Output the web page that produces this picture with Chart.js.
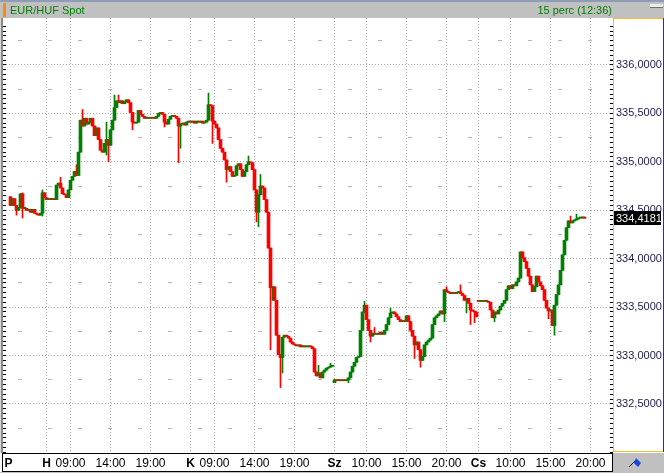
<!DOCTYPE html>
<html>
<head>
<meta charset="utf-8">
<script src="https://cdn.jsdelivr.net/npm/chart.js@4.4.1/dist/chart.umd.min.js"></script>
<style>
  html, body { margin: 0; padding: 0; background: #fff; }
</style>
</head>
<body>
<canvas id="chart" width="664" height="473"></canvas>
<script>
const title = "EUR/HUF Spot";
const period = "15 perc (12:36)";

// one candle per 15 min, index 1 = first bar on Friday evening
const firstIndex = 1;
const closes = [
  // P
  334.55, 334.62, 334.55, 334.50, 334.53, 334.67, 334.52, 334.52, 334.50, 334.51,
  334.48, 334.51, 334.47, 334.46, 334.45, 334.47, 334.68, 334.63,
  // H
  334.61, 334.62, 334.61, 334.62, 334.61, 334.76, 334.78, 334.73, 334.67, 334.66,
  334.63, 334.71, 334.81, 334.85, 334.90, 334.86, 335.10, 335.43, 335.37, 335.45,
  335.39, 335.41, 335.45, 335.37, 335.27, 335.35, 335.23, 335.12, 335.10, 335.19,
  335.23, 335.17, 335.33, 335.43, 335.56, 335.63, 335.61, 335.63, 335.60, 335.62,
  335.64, 335.61, 335.51, 335.41, 335.40, 335.41, 335.53, 335.49, 335.47, 335.45,
  335.45, 335.46, 335.45, 335.46, 335.45, 335.47, 335.50, 335.51, 335.49, 335.41,
  335.39, 335.44, 335.47, 335.48, 335.47, 335.45, 335.37, 335.39, 335.40, 335.38,
  335.41, 335.42,
  // K
  335.41, 335.42, 335.40, 335.42, 335.41, 335.42, 335.40, 335.41, 335.43, 335.59,
  335.58, 335.42, 335.39, 335.35, 335.23, 335.14, 335.10, 335.02, 334.92, 334.95,
  334.90, 334.85, 334.86, 334.96, 334.98, 334.92, 334.85, 334.90, 334.97, 335.00,
  334.99, 334.92, 334.71, 334.48, 334.66, 334.75, 334.73, 334.61, 334.48, 334.11,
  333.70, 333.71, 333.57, 333.21, 333.01, 332.98, 333.19, 333.21, 333.20, 333.18,
  333.14, 333.12, 333.11, 333.10, 333.11, 333.09, 333.10, 333.09, 333.09, 333.10,
  333.09, 333.07, 332.83, 332.79, 332.82, 332.77, 332.83, 332.85, 332.87, 332.88,
  332.89, 332.89,
  // Sz
  332.75, 332.74, 332.75, 332.74, 332.75, 332.74, 332.75, 332.77, 332.83, 332.89,
  332.93, 332.98, 332.99, 333.26, 333.45, 333.52, 333.37, 333.26, 333.20, 333.23,
  333.22, 333.23, 333.22, 333.24, 333.22, 333.26, 333.32, 333.39, 333.44, 333.45,
  333.43, 333.40, 333.37, 333.35, 333.36, 333.35, 333.41, 333.35, 333.26, 333.20,
  333.11, 333.14, 333.06, 332.95, 332.99, 333.11, 333.14, 333.16, 333.18, 333.32,
  333.39, 333.41, 333.43, 333.46, 333.43, 333.68, 333.66, 333.65, 333.64, 333.65,
  333.64, 333.65, 333.66, 333.64, 333.62, 333.57, 333.59, 333.54, 333.47, 333.46,
  333.45, 333.40,
  // Cs
  333.56, 333.56, 333.57, 333.56, 333.56, 333.55, 333.47, 333.39, 333.45, 333.43,
  333.47, 333.51, 333.54, 333.57, 333.68, 333.72, 333.69, 333.73, 333.72, 333.76,
  333.80, 334.07, 334.01, 333.97, 333.90, 333.82, 333.73, 333.66, 333.71, 333.82,
  333.76, 333.72, 333.68, 333.57, 333.49, 333.46, 333.47, 333.31, 333.52, 333.63,
  333.73, 333.88, 334.04, 334.19, 334.32, 334.39, 334.37, 334.39, 334.40, 334.41,
  334.42, 334.42, 334.43, 334.4181
];

// opens that do not follow the previous close (session starts)
const dayOpens = [[1, 334.64], [163, 332.72], [235, 333.57]];

// visible shadows: [index, high, low]
const wicks = [
  [4, null, 334.45], [7, 334.68, 334.42], [17, 334.71, 334.44], [26, 334.84, null],
  [34, 334.97, null], [37, 335.54, null], [49, 335.41, 335.07], [50, null, 335.00],
  [53, 335.69, null], [55, 335.69, null], [62, null, 335.33], [78, null, 335.36],
  [85, null, 334.99], [86, null, 335.14], [100, 335.71, null], [102, null, 335.19],
  [109, null, 334.79], [120, 335.06, null], [124, null, 334.38], [125, null, 334.33],
  [126, 334.87, null], [131, null, 333.06], [132, null, 333.57], [136, null, 332.67],
  [137, null, 332.82], [155, 332.90, null], [161, 332.92, null], [170, null, 332.72],
  [178, 333.56, null], [181, null, 333.14], [183, 333.29, null], [191, 333.49, null],
  [203, null, 332.97], [206, null, 332.88], [218, null, 333.35], [219, 333.71, null],
  [226, 333.73, null], [229, null, 333.44], [231, null, 333.32], [233, null, 333.34],
  [243, null, 333.35], [270, null, 333.38], [273, null, 333.21], [281, 334.44, null],
  [284, 334.46, null]
];

const tickIndex = [0, 19, 31, 51, 71, 91, 103, 123, 143, 163, 179, 199, 219, 235, 251, 271, 291];
const tickLabels = ["P", "H", "09:00", "14:00", "19:00", "K", "09:00", "14:00", "19:00",
  "Sz", "10:00", "15:00", "20:00", "Cs", "10:00", "15:00", "20:00"];
const dayLabels = ["P", "H", "K", "Sz", "Cs"];
const priceTicks = [332.5, 333, 333.5, 334, 334.5, 335, 335.5, 336];
const halfTicks = [332.25, 332.75, 333.25, 333.75, 334.25, 334.75, 335.25, 335.75, 336.25];

const yMin = 331.994;
const yMax = 336.485;
const UP = "#008000";
const DOWN = "#ff0000";
const FONT = '"Liberation Sans", Arial, sans-serif';

const candles = closes.map((c, k) => {
  const i = firstIndex + k;
  const gap = dayOpens.find(d => d[0] === i);
  const o = gap ? gap[1] : closes[k - 1];
  let hi = Math.max(o, c);
  let lo = Math.min(o, c);
  const w = wicks.find(d => d[0] === i);
  if (w) {
    if (w[1] !== null) hi = Math.max(hi, w[1]);
    if (w[2] !== null) lo = Math.min(lo, w[2]);
  }
  return { i, o, c, hi, lo, color: c >= o ? UP : DOWN };
});

const fmt = v => v.toFixed(4).replace(".", ",");

const smallTicks = scale => {
  const t = [];
  for (let v = 332.0; v <= 336.45; v += 0.05) t.push({ value: +v.toFixed(2) });
  scale.ticks = t;
};

const tickAxis = (position, width, weight) => ({
  position, weight, min: yMin, max: yMax,
  afterBuildTicks: smallTicks,
  afterFit: s => { s.width = width; },
  grid: { drawOnChartArea: false, drawTicks: true, tickLength: 3, color: "#000" },
  border: { display: false },
  ticks: { display: false }
});

const frame = {
  id: "frame",
  beforeDraw(chart) {
    const c = chart.ctx;
    c.save();
    c.fillStyle = "#fff";
    c.fillRect(0, 0, chart.width, chart.height);
    c.restore();
  },
  afterDraw(chart) {
    const c = chart.ctx;
    const y = chart.scales.y;
    c.save();
    // header bar
    c.fillStyle = "#8d9db5";
    c.fillRect(0, 0, 664, 2);
    c.fillStyle = "#c0c0c0";
    c.fillRect(0, 2, 664, 16);
    c.fillStyle = "#ff8c00";
    c.fillRect(3, 3, 3, 14);
    c.fillStyle = "#ececec";
    c.fillRect(650, 4, 13, 3);
    c.fillStyle = "#707070";
    c.fillRect(650, 7, 13, 1);
    c.font = "11px " + FONT;
    c.fillStyle = "#008000";
    c.textBaseline = "middle";
    c.textAlign = "left";
    c.fillText(title, 10, 11);
    c.textAlign = "right";
    c.fillText(period, 612, 11);

    // left frame strip
    c.fillStyle = "#d8d8d8";
    c.fillRect(0, 18, 1, 435);
    c.fillStyle = "#8a8a8a";
    c.fillRect(1, 18, 2, 435);

    // price axis frame
    c.lineWidth = 1;
    c.strokeStyle = "#f0c030";
    c.beginPath();
    c.moveTo(613.5, 18); c.lineTo(613.5, 452);
    c.moveTo(613, 18.5); c.lineTo(664, 18.5);
    c.moveTo(613, 451.5); c.lineTo(664, 451.5);
    c.stroke();
    c.strokeStyle = "#1830c8";
    c.beginPath();
    c.moveTo(663.5, 18); c.lineTo(663.5, 452);
    c.stroke();

    // time axis frame
    c.fillStyle = "#c0c0c0";
    c.fillRect(613, 453, 51, 20);
    c.fillRect(0, 472, 664, 1);
    c.strokeStyle = "#000";
    c.strokeRect(2.5, 453.5, 610, 18);

    // pen icon
    c.strokeStyle = "#000";
    c.beginPath();
    c.moveTo(629, 467); c.lineTo(636, 460);
    c.stroke();
    c.fillStyle = "#1848e0";
    c.beginPath();
    c.moveTo(636, 458); c.lineTo(641, 463); c.lineTo(638, 467); c.lineTo(634, 463);
    c.closePath();
    c.fill();

    // last price tag
    const last = closes[closes.length - 1];
    const py = Math.round(y.getPixelForValue(last));
    c.fillStyle = "#000";
    c.fillRect(614, py - 7, 47, 14);
    c.fillStyle = "#fff";
    c.textAlign = "left";
    c.font = "11px " + FONT;
    c.fillText(fmt(last), 616, py + 0.5);
    c.restore();
  }
};

new Chart(document.getElementById("chart"), {
  type: "bar",
  data: {
    datasets: [
      {
        label: "body",
        order: 0,
        data: candles.map(d => ({ x: d.i, y: [Math.min(d.o, d.c), Math.max(d.o, d.c)] })),
        backgroundColor: candles.map(d => d.color),
        barThickness: 3,
        minBarLength: 1,
        grouped: false,
        borderWidth: 0
      },
      {
        label: "shadow",
        order: 1,
        data: candles.map(d => ({ x: d.i, y: [d.lo, d.hi] })),
        backgroundColor: candles.map(d => d.color),
        barThickness: 1,
        grouped: false,
        borderWidth: 0
      }
    ]
  },
  options: {
    responsive: false,
    devicePixelRatio: 1,
    animation: false,
    events: [],
    layout: { padding: { top: 18, left: 0, right: 0, bottom: 0 } },
    plugins: { legend: { display: false }, tooltip: { enabled: false } },
    scales: {
      x: {
        type: "linear",
        min: -1.25,
        max: 300.75,
        offset: false,
        afterBuildTicks: s => { s.ticks = tickIndex.map(v => ({ value: v })); },
        afterFit: s => { s.height = 20; },
        grid: {
          offset: false,
          drawTicks: false,
          color: ctx => (ctx.index === 0 ? "rgba(0,0,0,0)" : "#a8a8a8")
        },
        border: { display: false, dash: [1, 2] },
        ticks: {
          autoSkip: false,
          maxRotation: 0,
          padding: 3,
          color: "#000",
          font: ctx => ({
            family: FONT,
            size: 12,
            weight: dayLabels.includes(tickLabels[ctx.index]) ? "bold" : "normal"
          }),
          callback: (v, k) => tickLabels[k]
        }
      },
      yLeft: tickAxis("left", 6, 0),
      yTicksR: tickAxis("right", 3, 0),
      y: {
        position: "right",
        weight: 1,
        min: yMin,
        max: yMax,
        afterBuildTicks: s => { s.ticks = priceTicks.map(v => ({ value: v })); },
        afterFit: s => { s.width = 51; },
        grid: { drawTicks: false, color: "#a8a8a8" },
        border: { display: false, dash: [1, 2] },
        ticks: {
          padding: 3,
          color: "#1c1c50",
          font: { family: FONT, size: 11 },
          callback: v => fmt(v)
        }
      },
      yHalf: {
        position: "right",
        weight: 2,
        min: yMin,
        max: yMax,
        afterBuildTicks: s => { s.ticks = halfTicks.map(v => ({ value: v })); },
        afterFit: s => { s.width = 0; },
        grid: { drawTicks: false, color: "#b4b4b4" },
        border: { display: false, dash: [4, 26], dashOffset: 18 },
        ticks: { display: false }
      }
    }
  },
  plugins: [frame]
});
</script>
</body>
</html>
